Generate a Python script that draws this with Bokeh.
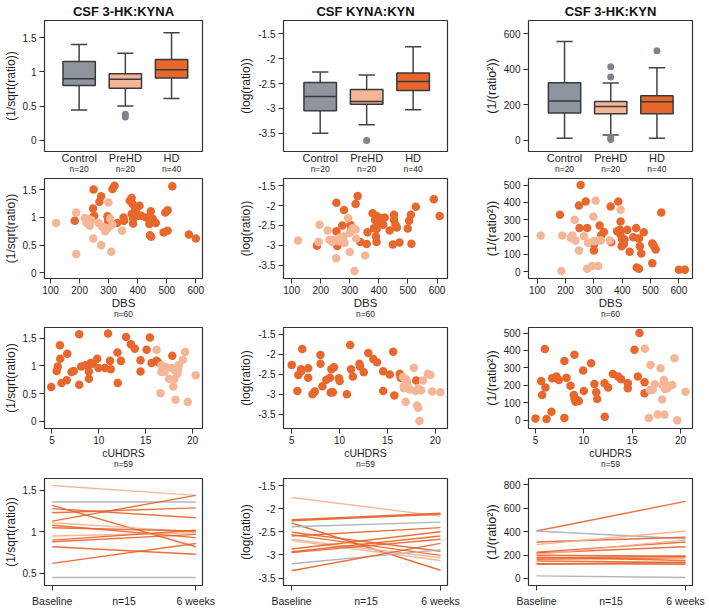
from bokeh.plotting import figure
from bokeh.layouts import column, row
from bokeh.models import FixedTicker, LinearAxis, Title, Range1d
from bokeh.embed import file_html
from bokeh.resources import INLINE

# ---------------- data ----------------
titles = ["CSF 3-HK:KYNA", "CSF KYNA:KYN", "CSF 3-HK:KYN"]
ylabels = ["(1/sqrt(ratio))", "(log(ratio))", "(1/(ratio²))"]
groups = ["Control", "PreHD", "HD"]
group_n = ["n=20", "n=20", "n=40"]

# boxplot stats: [low whisker, Q1, median, Q3, high whisker]
box1_control = [0.44, 0.80, 0.90, 1.15, 1.40]
box1_prehd = [0.50, 0.76, 0.89, 0.97, 1.27]
box1_hd = [0.61, 0.91, 1.03, 1.18, 1.57]
out1_x = [2, 2]
out1_y = [0.38, 0.34]

box2_control = [-3.50, -3.05, -2.76, -2.48, -2.27]
box2_prehd = [-3.33, -2.92, -2.86, -2.62, -2.33]
box2_hd = [-3.03, -2.64, -2.46, -2.29, -1.76]
out2_x = [2]
out2_y = [-3.65]

box3_control = [11, 154, 222, 325, 557]
box3_prehd = [30, 149, 191, 219, 323]
box3_hd = [11, 149, 217, 251, 409]
out3_x = [2, 2, 2, 2, 3]
out3_y = [415, 357, 15, 5, 505]

# scatter vs DBS (light = PreHD, dark = HD)
dbs1_light = [119, 188, 188, 218, 229, 224, 235, 247, 274, 265, 277, 285, 288, 299, 305, 313, 309, 346, 296, 240]
val1_light = [0.90, 1.09, 0.34, 0.99, 0.97, 0.90, 0.85, 0.62, 0.50, 0.90, 0.83, 0.82, 0.75, 1.27, 0.98, 0.87, 0.38, 0.76, 0.80, 0.95]
dbs1_dark = [183, 248, 246, 250, 274, 268, 296, 298, 300, 329, 313, 320, 351, 353, 373, 379, 382, 379, 384, 384,
             390, 395, 401, 406, 412, 429, 440, 445, 451, 457, 462, 442, 446, 495, 503, 489, 503, 519, 576, 600]
val1_dark = [0.94, 1.50, 1.16, 1.03, 1.38, 1.28, 1.02, 0.94, 0.91, 0.90, 1.51, 1.57, 1.00, 0.94, 1.30, 1.35, 1.24, 1.06, 0.98, 0.89,
             1.12, 1.09, 1.03, 1.21, 1.03, 1.00, 0.88, 1.11, 0.98, 0.92, 0.90, 0.68, 0.65, 1.09, 1.13, 0.73, 0.76, 1.56, 0.69, 0.62]

dbs2_light = [122, 196, 193, 224, 230, 240, 253, 246, 278, 282, 294, 300, 310, 300, 316, 322, 353, 263, 268, 320]
val2_light = [-2.88, -2.48, -2.92, -2.63, -2.86, -2.92, -3.33, -2.87, -2.78, -2.94, -2.32, -2.69, -2.57, -3.17, -3.65, -2.83, -3.26, -2.90, -2.80, -2.60]
dbs2_dark = [187, 254, 254, 257, 280, 274, 302, 306, 306, 320, 327, 336, 358, 361, 378, 383, 387, 392, 392, 390,
             392, 403, 407, 415, 420, 437, 448, 452, 452, 457, 462, 471, 499, 504, 510, 512, 527, 589, 609, 398]
val2_dark = [-3.01, -1.93, -2.65, -3.02, -2.11, -2.50, -2.48, -2.55, -2.61, -1.96, -1.76, -2.92, -2.97, -2.67, -2.19, -2.57, -2.36, -2.26, -2.59, -2.78,
             -2.92, -2.42, -2.32, -2.48, -2.30, -2.63, -2.98, -2.23, -2.36, -2.48, -2.55, -2.93, -2.58, -2.38, -2.23, -2.96, -2.03, -1.84, -2.26, -2.45]

dbs3_light = [112, 188, 185, 218, 224, 232, 235, 247, 265, 279, 276, 294, 298, 306, 298, 312, 315, 324, 356, 394]
val3_light = [208, 208, 4, 195, 208, 300, 179, 122, 204, 166, 17, 32, 319, 410, 176, 179, 32, 179, 179, 357]
dbs3_dark = [180, 253, 247, 271, 249, 276, 300, 300, 320, 326, 335, 359, 361, 386, 382, 392, 394, 394, 398, 400,
             408, 418, 426, 439, 449, 459, 462, 467, 451, 459, 476, 506, 512, 518, 506, 538, 600, 621, 509, 406]
val3_dark = [328, 500, 382, 405, 252, 252, 156, 122, 267, 210, 229, 376, 170, 405, 233, 242, 290, 214, 147, 185,
             185, 242, 115, 198, 252, 191, 147, 105, 23, 17, 227, 162, 147, 128, 48, 342, 10, 11, 155, 160]

# scatter vs cUHDRS
cu1_dark = [4.93, 5.51, 5.62, 5.86, 5.89, 6.03, 6.64, 6.58, 7.09, 7.33, 7.91, 7.91, 8.12, 8.60, 8.94, 8.94, 8.94, 9.14, 9.38, 9.83,
            9.97, 10.65, 10.99, 11.2, 11.27, 11.99, 12.02, 12.36, 12.91, 13.42, 13.84, 14.45, 14.45, 15.10, 15.45, 15.62, 16.16, 17.84, 16.3]
v1c_dark = [0.62, 0.91, 0.99, 1.37, 1.13, 0.69, 1.22, 0.74, 0.89, 0.91, 1.57, 0.66, 0.99, 1.01, 1.02, 0.90, 0.77, 1.05, 1.04, 1.13,
            0.96, 0.96, 1.58, 1.09, 0.94, 1.24, 0.69, 1.09, 1.52, 1.39, 1.31, 1.10, 0.90, 1.29, 1.51, 1.05, 1.09, 1.18, 1.07]
cu1_light = [16.16, 16.68, 16.82, 16.68, 17.02, 17.16, 16.58, 17.5, 17.77, 17.94, 18.05, 18.12, 18.39, 18.18, 18.53, 18.97, 19.21, 19.49, 20.34, 18.46]
v1c_light = [1.29, 1.01, 0.95, 0.89, 0.90, 0.98, 0.51, 0.77, 0.96, 0.63, 0.76, 0.92, 0.86, 0.39, 1.01, 1.11, 1.25, 0.35, 0.83, 0.94]

cu2_dark = [5.0, 5.59, 5.69, 5.97, 6.10, 6.72, 6.72, 7.17, 7.41, 8.0, 8.0, 8.21, 8.62, 9.0, 9.07, 9.14, 9.41, 9.93, 10.0, 10.76,
            11.1, 11.2, 11.38, 12.07, 12.14, 12.52, 13.0, 13.52, 13.9, 14.55, 14.55, 15.24, 15.59, 15.72, 16.28, 16.38, 18.0, 9.3, 6.0]
v2c_dark = [-2.27, -2.92, -2.52, -2.38, -1.87, -2.35, -2.59, -3.00, -2.93, -2.02, -2.24, -2.80, -2.64, -2.59, -2.96, -2.38, -2.33, -2.60, -2.67, -3.00,
            -1.77, -2.38, -2.56, -2.24, -2.31, -2.45, -1.97, -2.12, -2.20, -2.43, -2.92, -2.51, -1.94, -3.03, -2.49, -2.59, -2.66, -2.95, -2.42]
cu2_light = [16.62, 16.72, 16.9, 17.0, 16.72, 16.9, 17.31, 17.76, 17.93, 18.21, 18.1, 18.21, 18.34, 18.52, 18.72, 19.21, 19.48, 19.66, 20.52, 17.07]
v2c_light = [-2.57, -2.81, -2.62, -2.68, -2.85, -3.19, -2.88, -2.34, -2.92, -2.86, -3.28, -3.34, -3.67, -2.90, -2.66, -2.49, -2.52, -2.93, -2.95, -2.74]

cu3_dark = [5.0, 5.59, 5.69, 5.97, 6.03, 6.14, 6.72, 6.66, 7.17, 7.41, 7.99, 7.99, 8.21, 8.62, 9.03, 8.97, 9.03, 9.14, 9.31, 9.48,
            9.93, 10.0, 10.76, 11.1, 11.28, 11.38, 12.14, 12.17, 12.52, 13.0, 13.55, 13.86, 14.55, 14.55, 15.24, 15.59, 15.76, 16.28, 16.28]
v3c_dark = [10, 225, 144, 408, 187, 6, 240, 48, 250, 231, 340, 13, 244, 198, 375, 144, 125, 106, 115, 110,
            285, 167, 327, 208, 160, 121, 212, 19, 187, 265, 250, 235, 212, 183, 404, 250, 500, 217, 154]
cu3_light = [16.31, 16.72, 16.9, 16.83, 17.1, 17.34, 17.66, 17.93, 18.1, 18.28, 18.34, 18.14, 18.62, 18.79, 19.14, 19.38, 19.66, 20.52, 18.55, 18.4]
v3c_light = [410, 13, 317, 173, 173, 206, 33, 298, 119, 231, 33, 202, 183, 192, 202, 356, 0, 163, 202, 179]

# paired lines: baseline vs 6 weeks (group: d = dark, l = light, g = gray)
line_group1 = ["l", "g", "d", "d", "d", "d", "l", "d", "d", "l", "d", "d", "d", "d", "g"]
base1 = [1.56, 1.36, 1.32, 1.28, 1.23, 1.13, 1.11, 1.08, 1.05, 0.95, 0.90, 0.88, 0.82, 0.62, 0.45]
week1 = [1.44, 1.36, 0.82, 1.17, 1.29, 1.44, 1.00, 0.93, 1.01, 0.99, 1.02, 0.97, 0.73, 0.86, 0.45]

line_group2 = ["l", "d", "d", "d", "g", "d", "d", "d", "l", "l", "d", "d", "d", "g", "d"]
base2 = [-1.76, -2.24, -2.26, -2.31, -2.39, -2.51, -2.56, -2.59, -2.66, -2.69, -2.87, -2.93, -2.95, -3.19, -3.34]
week2 = [-2.16, -2.10, -2.12, -3.33, -2.29, -2.92, -3.01, -2.41, -3.06, -3.12, -2.50, -2.59, -2.66, -2.89, -2.75]

line_group3 = ["d", "g", "d", "l", "d", "d", "d", "d", "d", "d", "d", "d", "l", "d", "g"]
base3 = [406, 406, 312, 290, 225, 217, 198, 182, 163, 149, 127, 122, 205, 175, 22]
week3 = [659, 339, 352, 406, 312, 271, 190, 154, 176, 136, 122, 136, 330, 190, 8]

x_labels_row2 = "DBS"
x_labels_row3 = "cUHDRS"
n_row2 = "n=60"
n_row3 = "n=59"
n_row4 = "n=15"
time_labels = ["Baseline", "6 weeks"]

yticks_c1 = [0, 0.5, 1, 1.5]
yticks_c1_lab = ["0", "0.5", "1", "1.5"]
yticks_c1_r4 = [0.5, 1, 1.5]
yticks_c2 = [-3.5, -3, -2.5, -2, -1.5]
yticks_c2_lab = ["-3.5", "-3", "-2.5", "-2", "-1.5"]
yticks_c3_r1 = [0, 200, 400, 600]
yticks_c3_r23 = [0, 100, 200, 300, 400, 500]
yticks_c3_r4 = [0, 200, 400, 600, 800]
xticks_dbs = [100, 200, 300, 400, 500, 600]
xticks_cu = [5, 10, 15, 20]

# ---------------- style ----------------
FONT = "Liberation Sans"
INK = "#333333"
TXT = "#1e1e1e"
DARK = "#E8672D"
LIGHT = "#F5B697"
GRAY = "#8F959E"
OUTL = "#7E848D"
LINE_COL = {"d": "#E8622A", "l": "#F3B090", "g": "#A9AEB6"}
BOX_FILL = [GRAY, LIGHT, DARK]

COL_W = [236, 236, 236]
COL_BL = [38, 46, 56]
COL_BR = [34, 25, 16]
ROW_H = [176, 149, 151, 133]
ROW_BT = [18, 2, 2, 2]
ROW_BB = [25, 47, 48, 18]

XR = {
    0: [(0.25, 3.67), (0.21, 3.74), (0.22, 3.77)],
    1: [(79, 623), (72, 636), (69, 648)],
    2: [(4.21, 21.06), (4.14, 21.27), (4.28, 21.24)],
    3: [(-0.054, 1.047)] * 3,
}
YR = {
    0: [(-0.165, 1.75), (-3.87, -1.23), (-63, 675)],
    1: [(-0.10, 1.70), (-3.84, -1.315), (-40, 538)],
    2: [(-0.126, 1.69), (-3.855, -1.336), (-48, 532)],
    3: [(0.353, 1.644), (-3.66, -1.348), (-60, 854)],
}


def style_axis(ax, size="10px"):
    ax.axis_line_color = None
    ax.major_tick_line_color = INK
    ax.major_tick_line_width = 1
    ax.major_tick_out = 5
    ax.major_tick_in = 0
    ax.minor_tick_line_color = None
    ax.major_label_text_font = FONT
    ax.major_label_text_font_size = size
    ax.major_label_text_color = TXT
    ax.axis_label_text_font = FONT
    ax.axis_label_text_font_style = "normal"
    ax.axis_label_text_font_size = "12px"
    ax.axis_label_text_color = TXT


def make_fig(ri, ci):
    p = figure(width=COL_W[ci], height=ROW_H[ri],
               x_range=Range1d(*XR[ri][ci]), y_range=Range1d(*YR[ri][ci]),
               output_backend="svg", toolbar_location=None, tools="")
    p.min_border_left = COL_BL[ci]
    p.min_border_right = COL_BR[ci]
    p.min_border_top = ROW_BT[ri]
    p.min_border_bottom = ROW_BB[ri]
    p.outline_line_color = INK
    p.outline_line_width = 1.2
    p.grid.visible = False
    p.background_fill_color = "white"
    p.border_fill_color = "white"
    for ax in p.xaxis + p.yaxis:
        style_axis(ax)
    ya = p.yaxis[0]
    ya.axis_label = ylabels[ci]
    ya.major_label_standoff = 3
    ya.axis_label_standoff = 2
    if ci == 2:
        ya.axis_label_text_font_size = "12.5px"
    return p


def set_yticks(p, vals, labs=None):
    if labs is None:
        labs = [str(v) for v in vals]
    p.yaxis[0].ticker = FixedTicker(ticks=vals)
    p.yaxis[0].major_label_overrides = {v: l for v, l in zip(vals, labs)}


def ytick_setup(p, ri, ci):
    if ci == 0:
        if ri == 3:
            set_yticks(p, yticks_c1_r4, ["0.5", "1", "1.5"])
        else:
            set_yticks(p, yticks_c1, yticks_c1_lab)
    elif ci == 1:
        set_yticks(p, yticks_c2, yticks_c2_lab)
    else:
        if ri == 0:
            set_yticks(p, yticks_c3_r1)
        elif ri == 3:
            set_yticks(p, yticks_c3_r4)
        else:
            set_yticks(p, yticks_c3_r23)


boxes = [[box1_control, box1_prehd, box1_hd],
         [box2_control, box2_prehd, box2_hd],
         [box3_control, box3_prehd, box3_hd]]
outliers = [(out1_x, out1_y), (out2_x, out2_y), (out3_x, out3_y)]
scat_dbs = [(dbs1_light, val1_light, dbs1_dark, val1_dark),
            (dbs2_light, val2_light, dbs2_dark, val2_dark),
            (dbs3_light, val3_light, dbs3_dark, val3_dark)]
scat_cu = [(cu1_light, v1c_light, cu1_dark, v1c_dark),
           (cu2_light, v2c_light, cu2_dark, v2c_dark),
           (cu3_light, v3c_light, cu3_dark, v3c_dark)]
lines = [(line_group1, base1, week1), (line_group2, base2, week2), (line_group3, base3, week3)]

grid = []
# ---- row 1: boxplots ----
r = []
for ci in range(3):
    p = make_fig(0, ci)
    p.title.text = titles[ci]
    p.title.align = "center"
    p.title.text_font = FONT
    p.title.text_font_size = "13px"
    p.title.text_font_style = "bold"
    p.title.text_color = "#111111"
    p.title.standoff = 3
    ytick_setup(p, 0, ci)
    st = boxes[ci]
    xs = [1, 2, 3]
    lo = [s[0] for s in st]
    q1 = [s[1] for s in st]
    md = [s[2] for s in st]
    q3 = [s[3] for s in st]
    hi = [s[4] for s in st]
    bw = 0.7
    p.segment(x0=xs, y0=q3, x1=xs, y1=hi, line_color="#444444", line_width=1.5)
    p.segment(x0=xs, y0=q1, x1=xs, y1=lo, line_color="#444444", line_width=1.5)
    p.segment(x0=[x - bw / 4 for x in xs], y0=hi, x1=[x + bw / 4 for x in xs], y1=hi, line_color="#444444", line_width=1.5)
    p.segment(x0=[x - bw / 4 for x in xs], y0=lo, x1=[x + bw / 4 for x in xs], y1=lo, line_color="#444444", line_width=1.5)
    p.vbar(x=xs, width=bw, bottom=q1, top=q3, fill_color=BOX_FILL, line_color="#3a3a3a", line_width=1.5)
    p.segment(x0=[x - bw / 2 for x in xs], y0=md, x1=[x + bw / 2 for x in xs], y1=md, line_color="#3a3a3a", line_width=1.5)
    ox, oy = outliers[ci]
    p.scatter(x=ox, y=oy, size=7, color=OUTL, line_color=None)
    xa = p.xaxis[0]
    xa.ticker = FixedTicker(ticks=xs)
    xa.major_label_overrides = {x: g for x, g in zip(xs, groups)}
    xa.major_tick_out = 0
    xa.major_label_standoff = 0
    xa.major_label_text_font_size = "11px"
    ax2 = LinearAxis(ticker=FixedTicker(ticks=xs))
    style_axis(ax2, "8.5px")
    ax2.major_tick_out = 0
    ax2.major_label_standoff = -3
    ax2.major_label_overrides = {x: n for x, n in zip(xs, group_n)}
    p.add_layout(ax2, "below")
    r.append(p)
grid.append(r)

# ---- rows 2 and 3: scatter ----
for ri, scat, xt, xl, nl in [(1, scat_dbs, xticks_dbs, x_labels_row2, n_row2),
                             (2, scat_cu, xticks_cu, x_labels_row3, n_row3)]:
    r = []
    for ci in range(3):
        p = make_fig(ri, ci)
        ytick_setup(p, ri, ci)
        lx, ly, dx, dy = scat[ci]
        p.scatter(x=dx, y=dy, size=8.5, color=DARK, line_color=None)
        p.scatter(x=lx, y=ly, size=8.5, color=LIGHT, line_color=None)
        xa = p.xaxis[0]
        xa.ticker = FixedTicker(ticks=xt)
        xa.major_label_standoff = 2
        xa.axis_label = xl
        xa.axis_label_standoff = 0
        xa.axis_label_text_font_size = "11.5px" if ri == 1 else "10.5px"
        t = Title(text=nl, align="center", vertical_align="top", text_font=FONT, text_font_size="8.5px",
                  text_font_style="normal", text_color=TXT, standoff=-5)
        p.add_layout(t, "below")
        r.append(p)
    grid.append(r)

# ---- row 4: paired lines ----
r = []
for ci in range(3):
    p = make_fig(3, ci)
    ytick_setup(p, 3, ci)
    grp, b, w = lines[ci]
    cols = [LINE_COL[g] for g in grp]
    p.segment(x0=[0] * len(b), y0=b, x1=[1] * len(w), y1=w, line_color=cols, line_width=1.4, line_alpha=0.9)
    xa = p.xaxis[0]
    xa.ticker = FixedTicker(ticks=[0, 0.5, 1], minor_ticks=[0, 1])
    xa.major_label_overrides = {0: time_labels[0], 0.5: n_row4, 1: time_labels[1]}
    xa.major_tick_out = 0
    xa.minor_tick_out = 5
    xa.minor_tick_in = 0
    xa.minor_tick_line_color = INK
    xa.major_label_standoff = 4
    xa.major_label_text_font_size = "10.5px"
    r.append(p)
grid.append(r)

layout = column(*[row(*rr, spacing=0) for rr in grid], spacing=0)
open("out.html", "w").write(file_html(layout, INLINE))
